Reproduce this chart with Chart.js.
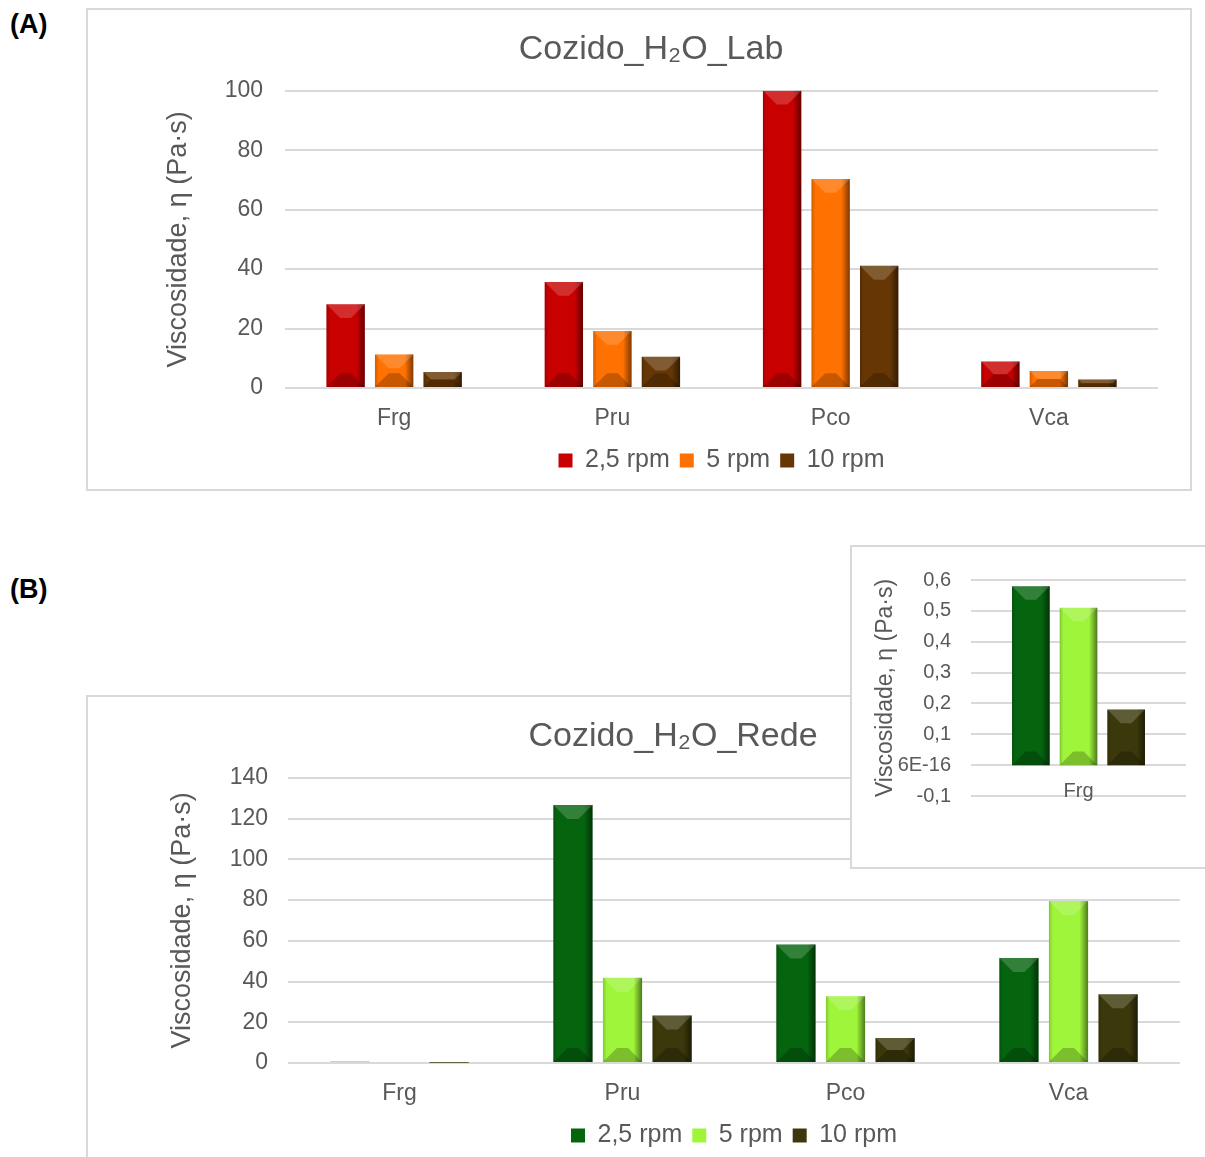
<!DOCTYPE html>
<html>
<head>
<meta charset="utf-8">
<script src="https://cdn.jsdelivr.net/npm/chart.js@4.4.1/dist/chart.umd.min.js"></script>
<style>
  html, body { margin: 0; padding: 0; background: #fff; overflow: hidden; }
  body { width: 1205px; height: 1157px; position: relative; font-family: "Liberation Sans", Arial, sans-serif; }
  .tag { position: absolute; left: 10px; font-weight: bold; font-size: 27px; color: #000; }
  .box { position: absolute; box-sizing: border-box; border: 2px solid #d9d9d9; background: #fff; }
  .box canvas { position: absolute; top: 0; }
</style>
</head>
<body>
<div class="tag" style="top:9px">(A)</div>
<div class="tag" style="top:574px">(B)</div>

<div class="box" style="left:86px; top:8px; width:1106px; height:483px;">
  <canvas id="labChart" style="left:22px"></canvas>
</div>
<div class="box" style="left:86px; top:695px; width:1160px; height:480px; border-right:none; border-bottom:none;">
  <canvas id="redeChart" style="left:44px"></canvas>
</div>
<div class="box" style="left:850px; top:545px; width:380px; height:324px; border-right:none;">
  <canvas id="insetChart" style="left:0px"></canvas>
</div>

<script>
// values
const categories = ['Frg', 'Pru', 'Pco', 'Vca'];
const seriesNames = ['2,5 rpm', '5 rpm', '10 rpm'];

const lab25 = [28.2, 35.7, 100, 8.9];
const lab5 = [11.3, 19.2, 70.3, 5.7];
const lab10 = [5.4, 10.5, 41.1, 2.9];

const rede25 = [0.58, 126.7, 58.2, 51.6];
const rede5 = [0.51, 41.8, 32.8, 79.5];
const rede10 = [0.18, 23.3, 12.3, 33.7];

const labColors = ['#c80000', '#ff7100', '#663705'];
const redeColors = ['#05650f', '#9ef53a', '#3b390b'];

const insetTicks = ['-0,1', '6E-16', '0,1', '0,2', '0,3', '0,4', '0,5', '0,6'];

const TXT = '#595959';
const GRID = '#d9d9d9';
Chart.defaults.font.family = '"Liberation Sans", Arial, sans-serif';
Chart.defaults.color = TXT;

// draws the bevelled look on top of each bar
const bevel = {
    id: 'bevel',
    afterDatasetsDraw(chart) {
        const ctx = chart.ctx;
        ctx.save();
        chart.data.datasets.forEach((ds, i) => {
            const meta = chart.getDatasetMeta(i);
            meta.data.forEach(bar => {
                const p = bar.getProps(['x', 'y', 'base', 'width'], true);
                const left = p.x - p.width / 2, right = p.x + p.width / 2;
                const top = Math.min(p.y, p.base), bottom = Math.max(p.y, p.base);
                const h = bottom - top;
                if (h < 3) return;
                const d = Math.min(p.width * 0.36, h / 2, 14);
                // side shading
                const g = ctx.createLinearGradient(left, 0, right, 0);
                g.addColorStop(0, 'rgba(0,0,0,0.18)');
                g.addColorStop(0.1, 'rgba(0,0,0,0)');
                g.addColorStop(0.78, 'rgba(0,0,0,0)');
                g.addColorStop(1, 'rgba(0,0,0,0.5)');
                ctx.fillStyle = g;
                ctx.fillRect(left, top, p.width, h);
                // top facet
                ctx.beginPath();
                ctx.moveTo(left, top); ctx.lineTo(right, top);
                ctx.lineTo(right - d, top + d); ctx.lineTo(left + d, top + d);
                ctx.closePath();
                ctx.fillStyle = 'rgba(255,255,255,0.18)';
                ctx.fill();
                // bottom facet
                ctx.beginPath();
                ctx.moveTo(left, bottom); ctx.lineTo(right, bottom);
                ctx.lineTo(right - d, bottom - d); ctx.lineTo(left + d, bottom - d);
                ctx.closePath();
                ctx.fillStyle = 'rgba(0,0,0,0.22)';
                ctx.fill();
            });
        });
        ctx.restore();
    }
};

function makeDatasets(series, colors) {
    return series.map((vals, i) => ({
        label: seriesNames[i],
        data: vals,
        backgroundColor: colors[i],
        borderWidth: 0,
        categoryPercentage: 0.667,
        barPercentage: 0.79
    }));
}

function mainChart(id, w, h, title, series, colors, yMax, padLeft, yWidth, tickPad, titlePad, padBottom) {
    const canvas = document.getElementById(id);
    canvas.width = w; canvas.height = h;
    canvas.style.width = w + 'px'; canvas.style.height = h + 'px';
    return new Chart(canvas, {
        type: 'bar',
        data: { labels: categories, datasets: makeDatasets(series, colors) },
        plugins: [bevel],
        options: {
            responsive: false,
            animation: false,
            layout: { padding: { left: padLeft, right: 34, top: 0, bottom: padBottom } },
            plugins: {
                title: {
                    display: true, text: title, color: TXT,
                    font: { size: 34, weight: 'normal' },
                    padding: { top: 19, bottom: 21 }
                },
                legend: {
                    position: 'bottom', fullSize: false,
                    labels: { boxWidth: 14, boxHeight: 14, color: TXT, font: { size: 25 }, padding: 10 }
                },
                tooltip: { enabled: false }
            },
            scales: {
                x: {
                    grid: { display: false, drawTicks: false },
                    border: { display: false },
                    ticks: { color: TXT, font: { size: 23 }, padding: 17 },
                    afterFit: s => { s.height = 50; }
                },
                y: {
                    min: 0, max: yMax,
                    ticks: { stepSize: 20, color: TXT, font: { size: 23 }, padding: tickPad },
                    grid: { color: GRID, lineWidth: 2, drawTicks: false },
                    border: { display: false },
                    title: {
                        display: true, text: 'Viscosidade, η (Pa·s)', color: TXT,
                        font: { size: 27 }, padding: { top: titlePad, bottom: 0 }
                    },
                    afterFit: s => { s.width = yWidth; }
                }
            }
        }
    });
}

mainChart('labChart', 1082, 479, 'Cozido_H₂O_Lab', [lab25, lab5, lab10], labColors, 100, 34, 141, 22, 18, 6);
mainChart('redeChart', 1082, 466, 'Cozido_H₂O_Rede', [rede25, rede5, rede10], redeColors, 140, 34, 122, 20, 0, 5);

// inset: Frg only, zoomed
const inset = document.getElementById('insetChart');
inset.width = 355; inset.height = 320;
inset.style.width = '355px'; inset.style.height = '320px';
new Chart(inset, {
    type: 'bar',
    data: {
        labels: [categories[0]],
        datasets: makeDatasets([[rede25[0]], [rede5[0]], [rede10[0]]], redeColors).map(d => ({
            ...d, categoryPercentage: 0.665, barPercentage: 0.79
        }))
    },
    plugins: [bevel],
    options: {
        responsive: false,
        animation: false,
        layout: { padding: { left: 17, right: 21, top: 33, bottom: 71 } },
        plugins: { legend: { display: false }, title: { display: false }, tooltip: { enabled: false } },
        scales: {
            x: {
                position: { y: 0 },
                grid: { display: false, drawTicks: false },
                border: { display: false },
                ticks: { color: TXT, font: { size: 20 }, padding: 14 }
            },
            y: {
                min: -0.1, max: 0.6,
                ticks: {
                    stepSize: 0.1, color: TXT, font: { size: 20 }, padding: 20,
                    callback: (v, i) => insetTicks[i]
                },
                grid: { color: GRID, lineWidth: 2, drawTicks: false },
                border: { display: false },
                title: {
                    display: true, text: 'Viscosidade, η (Pa·s)', color: TXT,
                    font: { size: 23 }, padding: { top: 3, bottom: 0 }
                },
                afterFit: s => { s.width = 102; }
            }
        }
    }
});
</script>
</body>
</html>
